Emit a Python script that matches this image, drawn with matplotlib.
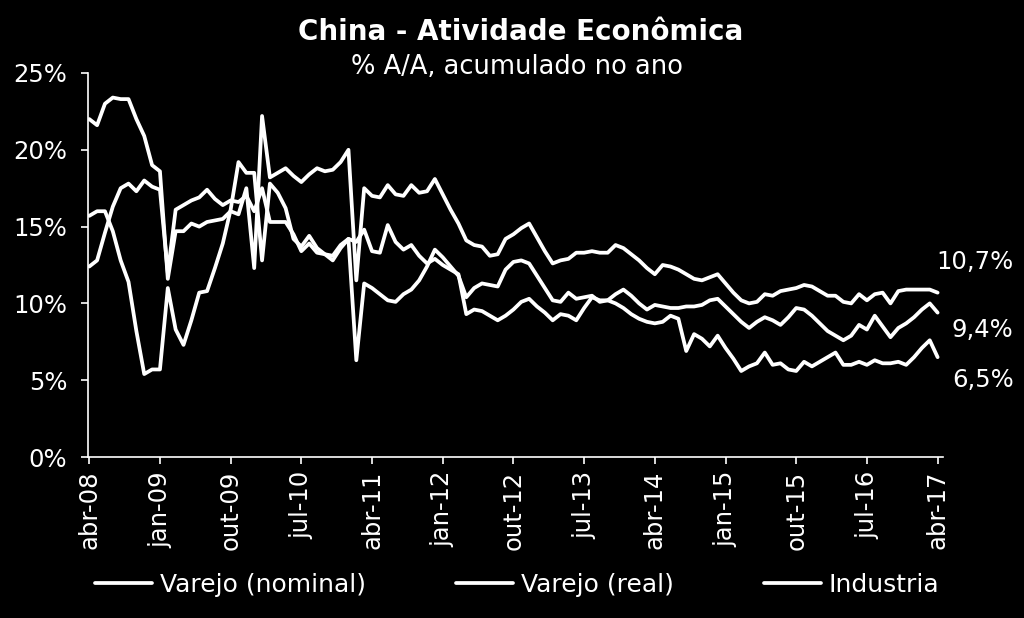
import matplotlib
matplotlib.use('Agg')
import matplotlib.pyplot as plt
import numpy as np

# rótulos do eixo x (um a cada 9 meses, abr-08 a abr-17)
ticklabels = ['abr-08', 'jan-09', 'out-09', 'jul-10', 'abr-11', 'jan-12', 'out-12',
              'jul-13', 'abr-14', 'jan-15', 'out-15', 'jul-16', 'abr-17']

# % A/A, mensal de abr-08 a abr-17
varejo_nominal = [22.0, 21.6, 23.0, 23.4, 23.3, 23.3, 22.0, 20.9, 19.0, 18.6,
                  11.6, 14.7, 14.7, 15.2, 15.0, 15.3, 15.4, 15.5, 16.0, 15.8,
                  17.5, 12.3, 22.2, 18.2, 18.5, 18.8, 18.3, 17.9, 18.4, 18.8,
                  18.6, 18.7, 19.2, 20.0, 11.5, 17.5, 17.0, 16.9, 17.7, 17.1,
                  17.0, 17.7, 17.2, 17.3, 18.1, 17.1, 16.1, 15.2, 14.1, 13.8,
                  13.7, 13.1, 13.2, 14.2, 14.5, 14.9, 15.2, 14.3, 13.4, 12.6,
                  12.8, 12.9, 13.3, 13.3, 13.4, 13.3, 13.3, 13.8, 13.6, 13.2,
                  12.8, 12.3, 11.9, 12.5, 12.4, 12.2, 11.9, 11.6, 11.5, 11.7,
                  11.9, 11.3, 10.7, 10.2, 10.0, 10.1, 10.6, 10.5, 10.8, 10.9,
                  11.0, 11.2, 11.1, 10.8, 10.5, 10.5, 10.1, 10.0, 10.6, 10.2,
                  10.6, 10.7, 10.0, 10.8, 10.9, 10.9, 10.9, 10.9, 10.7]

varejo_real = [12.4, 12.8, 14.6, 16.3, 17.5, 17.8, 17.3, 18.0, 17.6, 17.4,
               12.0, 16.1, 16.4, 16.7, 16.9, 17.4, 16.8, 16.4, 16.7, 16.6,
               17.0, 16.0, 17.5, 15.3, 15.3, 15.3, 14.5, 13.4, 13.9, 13.3,
               13.2, 12.8, 13.6, 14.2, 6.3, 11.3, 11.0, 10.6, 10.2, 10.1,
               10.6, 10.9, 11.5, 12.4, 13.5, 13.0, 12.4, 11.8, 10.4, 11.0,
               11.3, 11.2, 11.1, 12.2, 12.7, 12.8, 12.6, 11.8, 11.0, 10.2,
               10.1, 10.7, 10.3, 10.4, 10.5, 10.1, 10.2, 10.6, 10.9, 10.5,
               10.0, 9.6, 9.9, 9.8, 9.7, 9.7, 9.8, 9.8, 9.9, 10.2,
               10.3, 9.8, 9.3, 8.8, 8.4, 8.8, 9.1, 8.9, 8.6, 9.1,
               9.7, 9.6, 9.2, 8.7, 8.2, 7.9, 7.6, 7.9, 8.6, 8.3,
               9.2, 8.5, 7.8, 8.4, 8.7, 9.1, 9.6, 10.0, 9.4]

industria = [15.7, 16.0, 16.0, 14.7, 12.8, 11.4, 8.2, 5.4, 5.7, 5.7,
             11.0, 8.3, 7.3, 8.9, 10.7, 10.8, 12.3, 13.9, 16.1, 19.2,
             18.5, 18.5, 12.8, 17.8, 17.2, 16.2, 14.2, 13.7, 14.4, 13.6,
             13.2, 13.1, 13.8, 14.2, 14.0, 14.8, 13.4, 13.3, 15.1, 14.0,
             13.5, 13.8, 13.1, 12.6, 12.9, 12.5, 12.2, 11.9, 9.3, 9.6,
             9.5, 9.2, 8.9, 9.2, 9.6, 10.1, 10.3, 9.8, 9.4, 8.9,
             9.3, 9.2, 8.9, 9.7, 10.4, 10.2, 10.2, 10.0, 9.7, 9.3,
             9.0, 8.8, 8.7, 8.8, 9.2, 9.0, 6.9, 8.0, 7.7, 7.2,
             7.9, 7.1, 6.4, 5.6, 5.9, 6.1, 6.8, 6.0, 6.1, 5.7,
             5.6, 6.2, 5.9, 6.2, 6.5, 6.8, 6.0, 6.0, 6.2, 6.0,
             6.3, 6.1, 6.1, 6.2, 6.0, 6.5, 7.1, 7.6, 6.5]

months = np.arange(len(industria))

plt.rcParams['font.family'] = ['DejaVu Sans']

fig = plt.figure(figsize=(10.24, 6.18), dpi=100, facecolor='black')
ax = fig.add_axes([0.086, 0.2605, 0.835, 0.6214])
ax.set_facecolor('black')

series = [(varejo_nominal, 'Varejo (nominal)', 31),
          (varejo_real, 'Varejo (real)', -17),
          (industria, 'Industria', -23)]

for valores, nome, dy in series:
    ax.plot(months, valores, color='white', lw=2.7, label=nome,
            solid_joinstyle='round', solid_capstyle='round')
    # rótulo com o último valor
    ax.annotate(('%.1f%%' % valores[-1]).replace('.', ','),
                xy=(months[-1], valores[-1]), xytext=(76, dy),
                textcoords='offset pixels', ha='right', va='center',
                color='white', fontsize=17.5, annotation_clip=False)

ax.set_xlim(-0.15, 108.7)
ax.set_ylim(0, 25)
ax.set_yticks(range(0, 26, 5))
ax.set_yticklabels(['%d%%' % v for v in range(0, 26, 5)])
ax.set_xticks(months[::9])
ax.set_xticklabels(ticklabels, rotation=90)

ax.tick_params(axis='both', colors='white', labelsize=17.5, direction='out',
               length=5, width=1.2)
ax.tick_params(axis='y', pad=10)
ax.tick_params(axis='x', pad=5)
for s in ['top', 'right']:
    ax.spines[s].set_visible(False)
for s in ['left', 'bottom']:
    ax.spines[s].set_color('white')
    ax.spines[s].set_linewidth(1.2)

fig.text(0.508, 0.949, 'China - Atividade Econômica', ha='center', va='center',
         fontsize=20, fontweight='bold', color='white')
fig.text(0.505, 0.892, '% A/A, acumulado no ano', ha='center', va='center',
         fontsize=18.5, color='white')

leg = fig.legend(loc='center', bbox_to_anchor=(0.505, 0.053), ncol=3,
                 frameon=False, fontsize=18, handlelength=2.3,
                 handletextpad=0.3, columnspacing=3.6)
for t in leg.get_texts():
    t.set_color('white')

fig.savefig('out.png', dpi=100, facecolor='black')
